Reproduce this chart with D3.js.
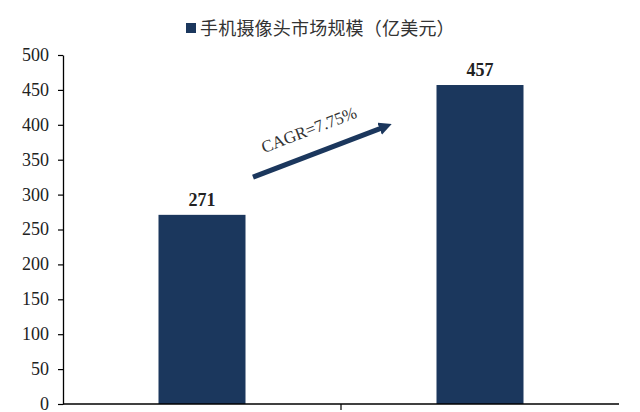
<!DOCTYPE html>
<html>
<head>
<meta charset="utf-8">
<script src="https://cdn.jsdelivr.net/npm/d3@7"></script>
<style>
  body { margin: 0; background: #fff; }
  svg text { font-family: "Liberation Serif", "Times New Roman", serif; }
</style>
</head>
<body>
<div id="chart"></div>
<script>
// data
var categories = ["A", "B"];
var values = [271, 457];
var yTicks = [0, 50, 100, 150, 200, 250, 300, 350, 400, 450, 500];
var seriesName = "手机摄像头市场规模（亿美元）";
var cagrLabel = "CAGR=7.75%";

var W = 640, H = 412,
    margin = {top: 55, right: 20, bottom: 8, left: 63},
    barColor = "#1b375d";

var svg = d3.select("#chart").append("svg")
  .attr("width", W).attr("height", H);

var x = d3.scaleBand()
  .domain(categories)
  .range([margin.left, margin.left + 556])
  .paddingInner(0).paddingOuter(0);

var y = d3.scaleLinear()
  .domain([0, 500])
  .range([H - margin.bottom, margin.top]);

var barW = 87;

//---------------------- legend / title
svg.append("rect")
  .attr("x", 186).attr("y", 23).attr("width", 10).attr("height", 10)
  .attr("fill", barColor);
svg.append("text")
  .attr("x", 200).attr("y", 35)
  .style("font-family", "'Noto Sans CJK SC', sans-serif")
  .style("font-size", "18px")
  .style("letter-spacing", "0.2px")
  .attr("fill", "#333")
  .text(seriesName);

//---------------------- bars
svg.selectAll("rect.bar").data(values).enter().append("rect")
  .attr("class", "bar")
  .attr("x", function (d, i) { return x(categories[i]) + x.bandwidth() / 2 - barW / 2; })
  .attr("y", function (d) { return y(d); })
  .attr("width", barW)
  .attr("height", function (d) { return y(0) - y(d); })
  .attr("fill", barColor);

svg.selectAll("text.val").data(values).enter().append("text")
  .attr("class", "val")
  .attr("x", function (d, i) { return x(categories[i]) + x.bandwidth() / 2; })
  .attr("y", function (d) { return y(d) - 9; })
  .attr("text-anchor", "middle")
  .style("font-size", "18px")
  .style("font-weight", "bold")
  .attr("fill", "#222")
  .text(function (d) { return d; });

//---------------------- y axis
var yAxis = d3.axisLeft(y).tickValues(yTicks).tickSize(5).tickSizeOuter(0);
var gy = svg.append("g")
  .attr("transform", "translate(" + margin.left + ",0)")
  .call(yAxis);
gy.select(".domain").attr("stroke", "#000").attr("stroke-width", 1.3);
gy.selectAll(".tick line").attr("stroke", "#000").attr("stroke-width", 1.2);
gy.selectAll(".tick text")
  .attr("x", -14)
  .attr("dy", "0.3em")
  .style("font-family", "'Liberation Serif', serif")
  .style("font-size", "18px")
  .attr("fill", "#222");

//---------------------- x axis (no labels, ticks between categories)
var x0 = x.range()[0], x1 = x.range()[1];
svg.append("line")
  .attr("x1", x0).attr("x2", x1)
  .attr("y1", y(0)).attr("y2", y(0))
  .attr("stroke", "#000").attr("stroke-width", 1.3);
svg.selectAll("line.xt").data(categories.slice(1)).enter().append("line")
  .attr("class", "xt")
  .attr("x1", function (d) { return x(d); }).attr("x2", function (d) { return x(d); })
  .attr("y1", y(0)).attr("y2", y(0) + 6)
  .attr("stroke", "#000").attr("stroke-width", 1.2);

//---------------------- CAGR arrow
var ax1 = x(categories[0]) + x.bandwidth() / 2 + 51, ay1 = y(325),
    ax2 = x(categories[1]) + x.bandwidth() / 2 - 90, ay2 = y(400);

svg.append("defs").append("marker")
  .attr("id", "arrowHead")
  .attr("viewBox", "0 0 10 10")
  .attr("refX", 2).attr("refY", 5)
  .attr("markerWidth", 2.6).attr("markerHeight", 2.6)
  .attr("orient", "auto")
  .append("path")
  .attr("d", "M0,0 L10,5 L0,10 z")
  .attr("fill", barColor);

svg.append("line")
  .attr("x1", ax1).attr("y1", ay1)
  .attr("x2", ax2 - 8).attr("y2", ay2 + 3)
  .attr("stroke", barColor).attr("stroke-width", 5)
  .attr("marker-end", "url(#arrowHead)");

var ang = Math.atan2(ay2 - ay1, ax2 - ax1) * 180 / Math.PI;
svg.append("text")
  .attr("transform", "translate(" + (ax1 + 11) + "," + (ay1 - 24) + ") rotate(" + ang + ")")
  .style("font-size", "17px")
  .attr("fill", "#333")
  .text(cagrLabel);
</script>
</body>
</html>
